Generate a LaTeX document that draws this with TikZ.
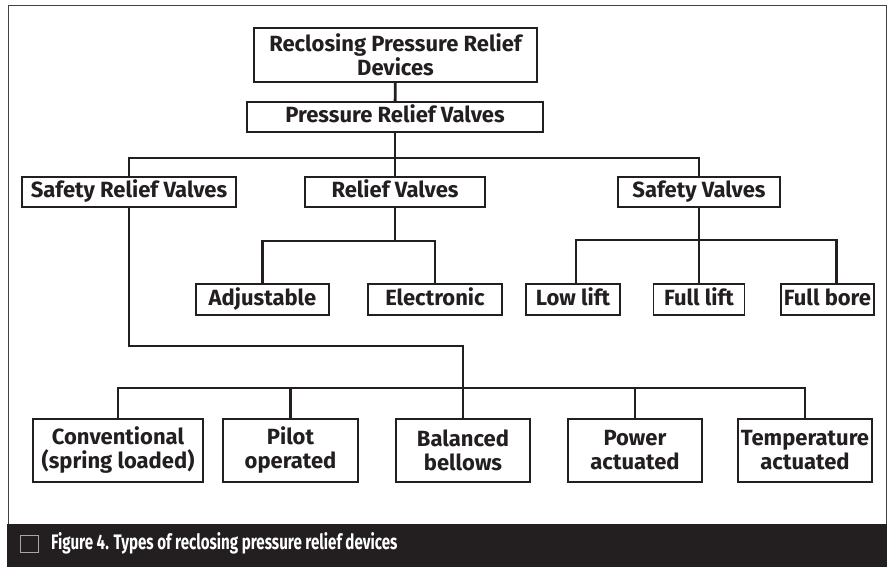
\documentclass[tikz,border=0pt]{standalone}
\usepackage{fontspec}
\setmainfont{Fira Sans}
\newfontfamily\capfont[FakeStretch=0.72]{Fira Sans}
\definecolor{ink}{HTML}{231F20}

\begin{document}
\begin{tikzpicture}[x=1pt,y=-1pt,
    box/.style={draw=ink,line width=1.2pt,fill=white,inner sep=0pt,align=center,text=ink,
        font=\bfseries\fontsize{22}{24}\selectfont},
    onebox/.style={box,text height=16pt,text depth=4.8pt},
    link/.style={draw=ink,line width=2.8pt}]
    \useasboundingbox (0,0) rectangle (891,567);
    \draw[ink!85,line width=1pt] (8,524) -- (8,6) -- (886,6) -- (886,524);
    \fill[ink] (7,524) rectangle (887,567);
    \draw[gray!70,line width=1pt] (20.5,535.5) rectangle (38.5,552.5);
    \node[anchor=base west,inner sep=0pt,text=white,font=\capfont\bfseries\fontsize{21}{23}\selectfont] (F) at (51,549) {Figure 4. Types of reclosing pressure relief devices};
    \node[box,minimum width=283,minimum height=54] (RD) at (395.5,55) {Reclosing Pressure Relief\\Devices};
    \node[onebox,minimum width=296,minimum height=30] (PRV) at (395,117) {Pressure Relief Valves};
    \node[onebox,minimum width=214,minimum height=30] (SRV) at (129,192) {Safety Relief Valves};
    \node[onebox,minimum width=180,minimum height=30] (RV) at (395,192) {Relief Valves};
    \node[onebox,minimum width=162,minimum height=30] (SV) at (699,192) {Safety Valves};
    \node[onebox,minimum width=133,minimum height=31] (A) at (262.5,299.5) {Adjustable};
    \node[onebox,minimum width=134,minimum height=31] (E) at (435,299.5) {Electronic};
    \node[onebox,minimum width=94,minimum height=31] (LL) at (573,299.5) {Low lift};
    \node[onebox,minimum width=91,minimum height=31] (FL) at (699,299.5) {Full lift};
    \node[onebox,minimum width=93,minimum height=31] (FB) at (827.5,299.5) {Full bore};
    \node[box,minimum width=170,minimum height=63] (C) at (118,450.5) {Conventional\\(spring loaded)};
    \node[box,minimum width=135,minimum height=63] (PO) at (290.5,450.5) {Pilot\\operated};
    \node[box,minimum width=134,minimum height=63] (BB) at (463,450.5) {Balanced\\bellows};
    \node[box,minimum width=134,minimum height=63] (PA) at (635,450.5) {Power\\actuated};
    \node[box,minimum width=134,minimum height=63] (TA) at (805,450.5) {Temperature\\actuated};
    \coordinate (J1) at (395,158);
    \coordinate (J2) at (395,241);
    \coordinate (J3) at (699,240);
    \coordinate (J4) at (463,346);
    \coordinate (J5) at (463,388);
    \draw[link] (RD) -- (PRV);
    \draw[link] (PRV) -- (RV);
    \draw[link] (SRV.north) |- (J1) -| (SV.north);
    \draw[link] (RV) -- (J2);
    \draw[link] (A.north) |- (J2) -| (E.north);
    \draw[link] (SV) -- (FL);
    \draw[link] ([xshift=3pt]LL.north) |- (J3) -| ([xshift=9pt]FB.north);
    \draw[link] (SRV.south) |- (J4) -- (BB.north);
    \draw[link] (C.north) |- (J5) -| (TA.north);
    \draw[link] (PO.north) -- (PO.north |- J5);
    \draw[link] (PA.north) -- (PA.north |- J5);
\end{tikzpicture}
\end{document}
